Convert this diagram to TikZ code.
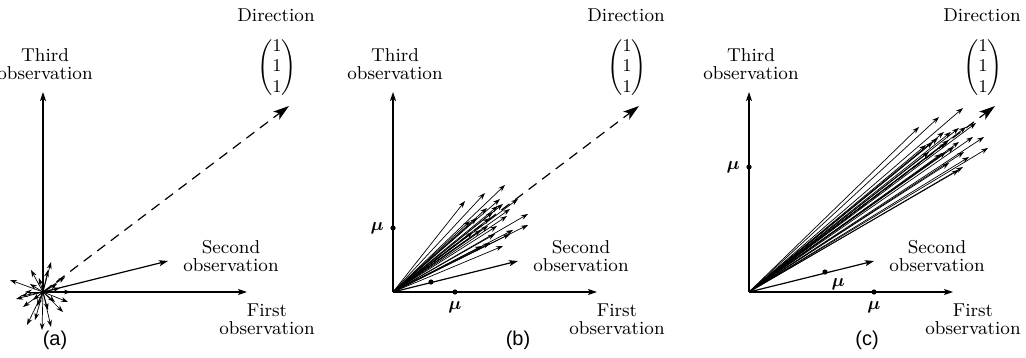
\documentclass[tikz,border=0pt]{standalone}
\usepackage{amsmath, amssymb}
\usepackage{fontspec}
\newfontfamily\capfont{Liberation Sans}
\usepackage{tikz}
\usetikzlibrary{
  arrows.meta,
  positioning,
  calc
}

\tikzset{
  obsaxis/.style={line width=0.6pt, -{Stealth[length=4.5pt, width=3pt, inset=1pt]}},
  obsvec/.style={line width=0.35pt, -{Stealth[length=3.5pt, width=2.4pt]}},
  dirvec/.style={line width=0.6pt, dash pattern=on 5pt off 3.5pt,
                 -{Stealth[length=8pt, width=5pt, inset=2pt]}},
  lbl/.style={align=center, inner sep=0pt, font=\fontsize{9.3}{9.2}\selectfont},
  vecm/.style={inner sep=0pt, font=\fontsize{9.3}{10}\selectfont},
  mudot/.style={circle, fill, inner sep=0pt, minimum size=2.6pt},
  mulbl/.style={inner sep=0pt, font=\fontsize{9.3}{10}\selectfont},
  panelcap/.style={inner sep=0pt, font=\capfont\fontsize{10}{12}\selectfont}
}

% axes, direction and labels of one panel (origin at the scope's origin)
\newcommand{\obsaxes}[1]{%
  \coordinate (o#1) at (0,0);
  \coordinate (x#1) at (204,0);
  \coordinate (z#1) at (0,-200);
  \coordinate (y#1) at (125,-31);
  \coordinate (d#1) at (246,-186);
  \draw[dirvec] (o#1) -- (d#1);
  \draw[obsaxis] (o#1) -- (x#1);
  \draw[obsaxis] (o#1) -- (z#1);
  \draw[obsaxis] (o#1) -- (y#1);
  \node[lbl] (zl#1) at (2,-228) {Third\\observation};
  \node[lbl] (dl#1) at (233,-277) {Direction};
  \node[vecm] (dm#1) at (234,-224) {$\begin{pmatrix}1\\1\\1\end{pmatrix}$};
  \node[lbl] (yl#1) at (188,-36) {Second\\observation};
  \node[lbl] (xl#1) at (224,27) {First\\observation};
}

\begin{document}
\begin{tikzpicture}[x=0.5pt, y=-0.5pt]
\useasboundingbox (0,0) rectangle (1026,358);

% (a) observations scattered round zero
\begin{scope}[shift={(43,292)}]
  \obsaxes{a}
  \foreach \dx/\dy in {-33/-12, -27/7, -12/-22, 8/-30, -16/33, -1/38, 8/35,
                       20/20, 28/0, 22/-15, -18/0, -10/8, 5/-22, 14/-8,
                       -6/14, -22/4, 12/10, -4/-14, 17/-4, -13/-8, 5/18,
                       -20/15, -8/28, 25/10}
    \draw[obsvec] (oa) -- ++(\dx,\dy);
  \node[panelcap] (capa) at (12,48) {(a)};
\end{scope}

% (b) observations round a small mean
\begin{scope}[shift={(393,292)}]
  \obsaxes{b}
  \foreach \dx/\dy in {112/-107, 92/-99, 72/-91, 107/-93, 105/-86, 125/-93,
                       117/-83, 94/-84, 97/-74, 114/-76, 135/-78, 135/-67,
                       84/-74, 117/-58, 97/-49, 89/-46, 110/-46, 77/-71,
                       104/-66, 120/-62, 100/-80, 110/-88, 88/-62, 95/-66,
                       80/-60, 102/-58}
    \draw[obsvec] (ob) -- ++(\dx,\dy);
  \node[mudot] (mzb) at (0,-64) {};
  \node[mudot] (mxb) at (62,0) {};
  \node[mudot] (myb) at (38,-10) {};
  \node[mulbl, left=3pt of mzb] {$\boldsymbol{\mu}$};
  \node[mulbl, below=3pt of mxb] {$\boldsymbol{\mu}$};
  \node[panelcap] (capb) at (125,48) {(b)};
\end{scope}

% (c) observations round a larger mean
\begin{scope}[shift={(749,292)}]
  \obsaxes{c}
  \foreach \dx/\dy in {190/-175, 170/-165, 214/-184, 227/-169, 195/-160,
                       202/-160, 210/-164, 217/-165, 197/-149, 184/-150,
                       177/-147, 210/-150, 224/-155, 235/-155, 239/-144,
                       220/-135, 214/-125, 200/-129, 210/-122, 197/-140,
                       189/-154, 205/-145, 192/-138, 215/-140, 180/-140,
                       200/-152}
    \draw[obsvec] (oc) -- ++(\dx,\dy);
  \node[mudot] (mzc) at (0,-125) {};
  \node[mudot] (mxc) at (125,0) {};
  \node[mudot] (myc) at (76,-20) {};
  \node[mulbl, left=3pt of mzc] {$\boldsymbol{\mu}$};
  \node[mulbl, below=3pt of mxc] {$\boldsymbol{\mu}$};
  \node[mulbl, below right=2pt and 2pt of myc] {$\boldsymbol{\mu}$};
  \node[panelcap] (capc) at (118,48) {(c)};
\end{scope}
\end{tikzpicture}
\end{document}
